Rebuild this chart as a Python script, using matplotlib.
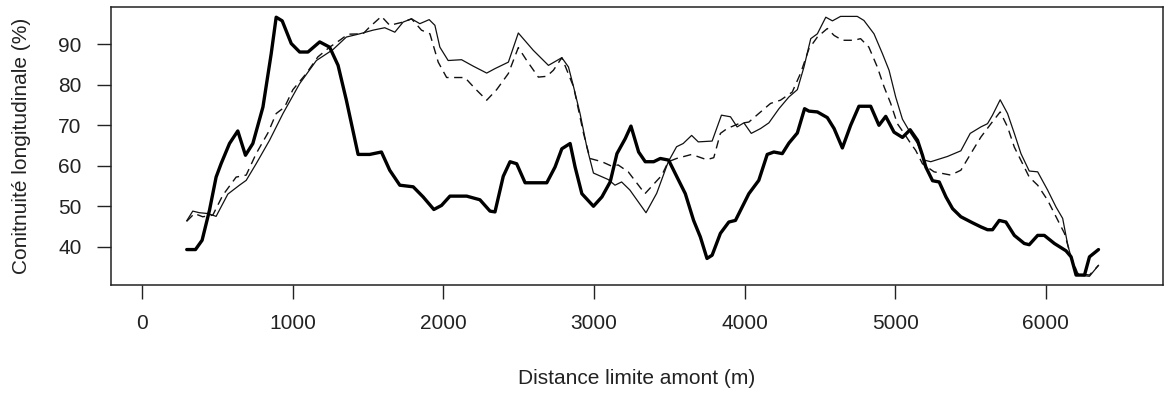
import matplotlib
matplotlib.use("Agg")
import matplotlib.pyplot as plt

plt.rcParams['font.family'] = ['Liberation Sans', 'DejaVu Sans']

# Series 1: thick solid line
thick_x = [295, 353, 397, 446, 490, 523, 579, 634, 685, 734, 801, 856, 889, 929, 989, 1045, 1100, 1178, 1244, 1300,
           1355, 1433, 1510, 1588, 1643, 1710, 1799, 1865, 1936, 1987, 2043, 2154, 2242, 2309, 2342, 2397, 2442, 2486,
           2542, 2686, 2741, 2786, 2841, 2874, 2919, 2996, 3052, 3107, 3152, 3207, 3245, 3296, 3340, 3396, 3440, 3495,
           3551, 3606, 3661, 3706, 3750, 3784, 3839, 3895, 3939, 4028, 4094, 4150, 4194, 4250, 4294, 4350, 4398, 4427,
           4483, 4549, 4594, 4649, 4704, 4759, 4837, 4892, 4937, 4992, 5048, 5099, 5148, 5181, 5203, 5248, 5292, 5337,
           5381, 5436, 5514, 5569, 5613, 5646, 5691, 5735, 5791, 5857, 5890, 5946, 5990, 6057, 6134, 6168, 6201, 6257,
           6290, 6350]
thick_y = [39.3, 39.3, 41.6, 49, 57.2, 60.5, 65.5, 68.6, 62.6, 65.5, 74.5, 87.7, 96.7, 95.8, 90.2, 88.1, 88.1, 90.6,
           89.3, 84.8, 76.2, 62.8, 62.8, 63.4, 58.9, 55.2, 54.8, 52.3, 49.2, 50.2, 52.5, 52.5, 51.6, 48.8, 48.6, 57.4,
           61, 60.5, 55.8, 55.8, 59.7, 64.2, 65.5, 59.7, 53.1, 50, 52.3, 56, 63, 66.7, 69.8, 63.4, 61, 61, 61.8, 61.4,
           57.2, 53.1, 46.5, 42.4, 37.1, 37.9, 43.3, 46.1, 46.5, 53.1, 56.4, 62.8, 63.4, 63, 65.6, 68.1, 74.1, 73.5,
           73.3, 71.9, 69.2, 64.4, 70, 74.7, 74.7, 70, 72.2, 68.3, 67, 68.9, 66.3, 62.6, 59.7, 56.3, 56, 52.3, 49.4,
           47.4, 45.9, 44.9, 44.2, 44.2, 46.5, 46.1, 42.8, 40.8, 40.5, 42.8, 42.8, 40.8, 39, 37.5, 33, 33, 37.5, 39.3]

# Series 2: thin solid line
thin_x = [295, 335, 379, 435, 490, 568, 645, 690, 756, 845, 934, 1045, 1156, 1266, 1355, 1444, 1532, 1610, 1677, 1732,
          1788, 1843, 1905, 1943, 1976, 2031, 2120, 2198, 2287, 2342, 2431, 2497, 2597, 2697, 2786, 2830, 2864, 2907,
          2952, 2996, 3094, 3139, 3183, 3238, 3345, 3416, 3493, 3548, 3592, 3648, 3692, 3784, 3846, 3906, 3950, 3995,
          4044, 4106, 4161, 4228, 4294, 4350, 4394, 4439, 4483, 4539, 4583, 4637, 4748, 4792, 4859, 4915, 4959, 5003,
          5048, 5103, 5148, 5192, 5236, 5347, 5436, 5498, 5569, 5613, 5646, 5697, 5746, 5791, 5835, 5890, 5946, 6012,
          6068, 6112, 6146, 6179, 6212, 6290, 6350]
thin_y = [46.4, 48.8, 48.4, 48.2, 47.5, 53, 55.2, 56.4, 60.5, 66.3, 72.9, 80.3, 86, 88.7, 91.8, 92.6, 93.5, 94.1, 93,
          95.5, 96.3, 95.1, 96.1, 94.7, 89.3, 86, 86.2, 84.6, 82.9, 84, 85.6, 92.8, 88.5, 84.8, 86.7, 84.4, 79.5, 72.9,
          64.6, 58.2, 56.6, 55.2, 56, 54, 48.4, 53.2, 61, 64.7, 65.5, 67.5, 65.9, 66.1, 72.5, 72.1, 69.6, 70.6, 68,
          69.2, 70.6, 74.1, 77, 78.8, 84.4, 91.4, 92.6, 96.7, 95.8, 96.9, 96.9, 95.9, 92.6, 87.7, 83.6, 77, 71.5, 68,
          65.5, 61.4, 61, 62.3, 63.7, 68, 69.6, 70.4, 72.5, 76.3, 72.9, 68, 63, 58.7, 58.5, 54, 49.8, 47, 40.4, 35.9,
          33, 32.7, 35.4]

# Series 3: dashed line
dash_x = [295, 346, 401, 468, 534, 623, 690, 756, 834, 889, 945, 1000, 1089, 1166, 1244, 1311, 1366, 1466, 1510, 1588,
          1643, 1732, 1788, 1854, 1910, 1965, 2021, 2142, 2209, 2287, 2353, 2431, 2497, 2553, 2630, 2686, 2730, 2786,
          2864, 2930, 2973, 3052, 3117, 3160, 3227, 3338, 3449, 3493, 3548, 3648, 3748, 3795, 3839, 3884, 3961, 4028,
          4106, 4172, 4238, 4316, 4372, 4427, 4483, 4549, 4594, 4649, 4726, 4770, 4825, 4881, 4926, 4970, 5014, 5059,
          5103, 5136, 5181, 5258, 5369, 5436, 5502, 5569, 5636, 5697, 5746, 5791, 5846, 5890, 5946, 6012, 6068, 6124,
          6168, 6212, 6290, 6350]
dash_y = [46.3, 48.2, 47.4, 47.8, 52.7, 57.2, 57.7, 63, 68.1, 72.9, 74.5, 78.8, 82.8, 86.9, 89.3, 91, 92.5, 92.6, 94.3,
          96.9, 94.7, 95.5, 96.3, 93.5, 92.6, 85.6, 81.8, 81.8, 79.1, 76.2, 78.8, 82.8, 89.2, 86, 81.9, 82.1, 83.6, 86.7,
          79.5, 68, 61.8, 61, 59.9, 60.2, 58.5, 53.1, 57.6, 61, 61.8, 62.8, 61.5, 62, 68, 69.2, 70.4, 70.8, 73.3, 75.4,
          76.2, 78.2, 82.9, 88.9, 91.8, 93.9, 92.2, 91, 91, 91.4, 89.3, 84.4, 79.5, 75.4, 70.4, 68, 65.5, 63.8, 60.5,
          58.5, 57.7, 58.9, 63, 67.1, 70.4, 73.3, 69.6, 64.6, 60.5, 57.2, 55.2, 51.5, 47.4, 43.3, 37.5, 33.4, 33, 35.4]

x_ticks = [0, 1000, 2000, 3000, 4000, 5000, 6000]
y_ticks = [40, 50, 60, 70, 80, 90]
x_label = "Distance limite amont (m)"
y_label = "Conitnuité longitudinale (%)"

fig = plt.figure(figsize=(11.64, 3.94), dpi=100)
ax = fig.add_axes([0.0951, 0.2766, 0.904, 0.7048])

ax.plot(thin_x, thin_y, color='#111111', lw=0.9, solid_joinstyle='round')
ax.plot(dash_x, dash_y, color='#111111', lw=1.0, linestyle=(0, (6, 4)))
ax.plot(thick_x, thick_y, color='black', lw=2.4, solid_joinstyle='round', solid_capstyle='round')

ax.set_xlim(-210, 6778)
ax.set_ylim(30.54, 99.14)
ax.set_xticks(x_ticks)
ax.set_xticklabels([str(t) for t in x_ticks])
ax.set_yticks(y_ticks)
ax.set_yticklabels([str(t) for t in y_ticks])

for s in ax.spines.values():
    s.set_linewidth(1.1)
    s.set_color('#222222')

ax.tick_params(axis='both', direction='out', length=10, width=1.0, color='#222222',
               labelsize=15, labelcolor='#222222')
ax.tick_params(axis='x', pad=11)
ax.tick_params(axis='y', pad=11)

fig.text(0.5 * (0.0951 + 0.9991), 1 - 378 / 394, x_label, ha='center', va='center', fontsize=15, color='#222222')
fig.text(22 / 1164, 0.2766 + 0.7048 / 2, y_label, ha='center', va='center', rotation=90, fontsize=15, color='#222222')

fig.savefig("out.png", dpi=100)
